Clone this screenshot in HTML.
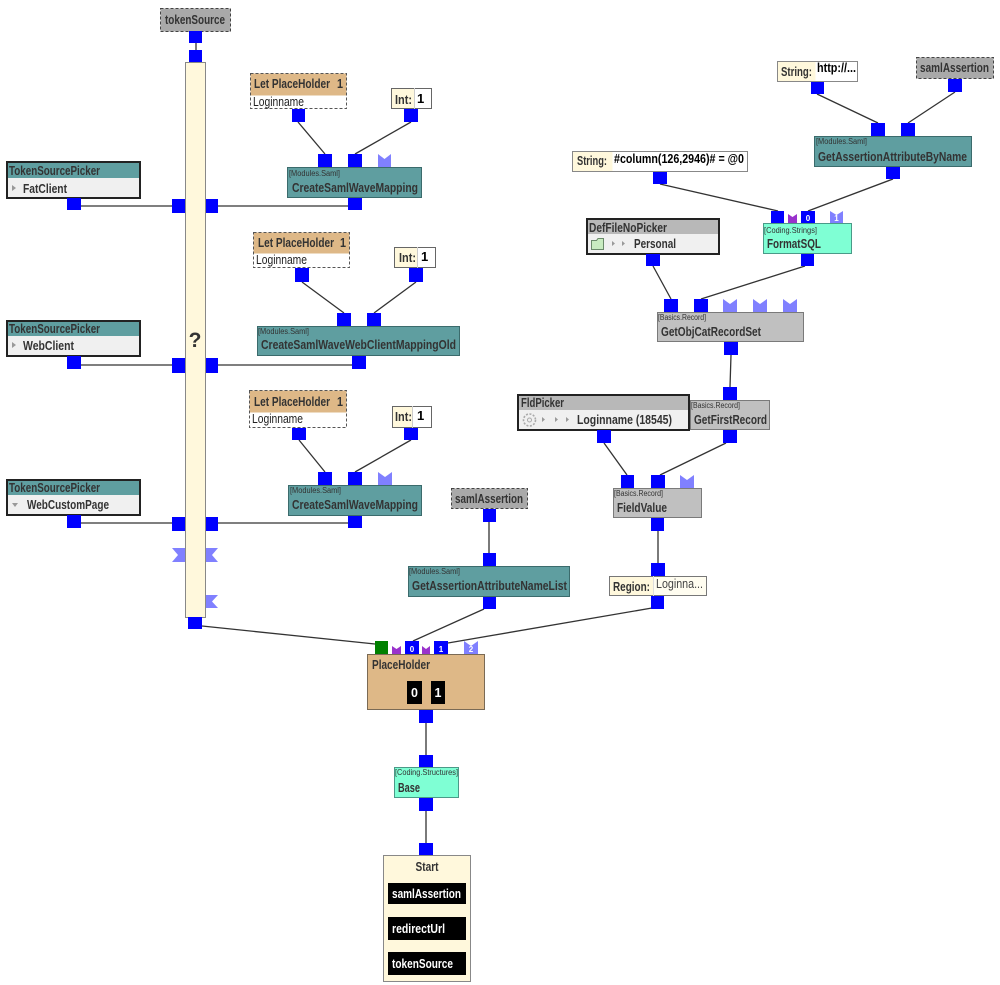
<!DOCTYPE html>
<html><head><meta charset="utf-8"><style>
html,body{margin:0;padding:0;background:#fff;width:1000px;height:985px;overflow:hidden}
svg{display:block}
text{font-family:"Liberation Sans",Arial,sans-serif}
.b{font-weight:bold;font-size:13px;fill:#333}
.t{font-size:8px;fill:#333}
.r{font-size:12.5px;fill:#222}
.w{font-weight:bold;font-size:12.5px;fill:#fff}
.pl{font-weight:bold;font-size:8px;fill:#fff}
</style></head><body>
<svg width="1000" height="985" viewBox="0 0 1000 985" xmlns="http://www.w3.org/2000/svg">
<!-- connectors -->
<g stroke="#333" stroke-width="1.3" fill="none">
<line x1="196" y1="43" x2="196" y2="50"/>
<line x1="81" y1="206" x2="172" y2="206"/><line x1="218" y1="206" x2="348" y2="206"/>
<line x1="81" y1="365" x2="172" y2="365"/><line x1="218" y1="365" x2="352" y2="365"/>
<line x1="81" y1="523" x2="172" y2="523"/><line x1="218" y1="523" x2="348" y2="523"/>
<line x1="298" y1="122" x2="325" y2="154"/><line x1="411" y1="122" x2="355" y2="154"/>
<line x1="302" y1="282" x2="344" y2="313"/><line x1="416" y1="282" x2="374" y2="313"/>
<line x1="299" y1="440" x2="325" y2="472"/><line x1="411" y1="440" x2="355" y2="472"/>
<line x1="202" y1="626" x2="375" y2="644"/>
<line x1="489" y1="522" x2="489" y2="553"/>
<line x1="484" y1="609" x2="413" y2="641"/>
<line x1="652" y1="608" x2="448" y2="643"/>
<line x1="658" y1="531" x2="658" y2="563"/>
<line x1="604" y1="443" x2="627" y2="475"/><line x1="726" y1="443" x2="660" y2="475"/>
<line x1="731" y1="355" x2="730" y2="387"/>
<line x1="653" y1="266" x2="671" y2="299"/><line x1="805" y1="266" x2="701" y2="299"/>
<line x1="660" y1="184" x2="778" y2="211"/><line x1="893" y1="179" x2="808" y2="211"/>
<line x1="817" y1="94" x2="878" y2="123"/><line x1="955" y1="92" x2="908" y2="123"/>
<line x1="426" y1="722" x2="426" y2="755"/><line x1="426" y1="811" x2="426" y2="843"/>
</g>

<!-- tokenSource -->
<rect x="160.5" y="8.5" width="70" height="23" fill="#a9a9a9" stroke="#444" stroke-dasharray="3,2"/>
<text class="b" x="165" y="24" textLength="60" lengthAdjust="spacingAndGlyphs">tokenSource</text>

<!-- vertical bar -->
<rect x="185.5" y="62.5" width="20" height="555" fill="#fff8dc" stroke="#888"/>
<text x="195" y="347" text-anchor="middle" style="font-weight:bold;font-size:21px;fill:#333">?</text>

<!-- TokenSourcePickers -->
<g>
<rect x="7" y="162" width="133" height="16" fill="#5f9ea0"/><rect x="7" y="178" width="133" height="20" fill="#f0f0f0"/>
<rect x="7" y="162" width="133" height="36" fill="none" stroke="#222" stroke-width="2"/>
<text class="b" x="9" y="175" textLength="91" lengthAdjust="spacingAndGlyphs">TokenSourcePicker</text>
<path d="M12,185 L16,188 L12,191 Z" fill="#999"/>
<text class="b" x="23" y="193" textLength="44" lengthAdjust="spacingAndGlyphs">FatClient</text>
</g>
<g>
<rect x="7" y="321" width="133" height="15" fill="#5f9ea0"/><rect x="7" y="336" width="133" height="20" fill="#f0f0f0"/>
<rect x="7" y="321" width="133" height="35" fill="none" stroke="#222" stroke-width="2"/>
<text class="b" x="9" y="333" textLength="91" lengthAdjust="spacingAndGlyphs">TokenSourcePicker</text>
<path d="M12,342 L16,345 L12,348 Z" fill="#999"/>
<text class="b" x="23" y="350" textLength="51" lengthAdjust="spacingAndGlyphs">WebClient</text>
</g>
<g>
<rect x="7" y="480" width="133" height="15" fill="#5f9ea0"/><rect x="7" y="495" width="133" height="20" fill="#f0f0f0"/>
<rect x="7" y="480" width="133" height="35" fill="none" stroke="#222" stroke-width="2"/>
<text class="b" x="9" y="492" textLength="91" lengthAdjust="spacingAndGlyphs">TokenSourcePicker</text>
<path d="M12,503 L18,503 L15,507 Z" fill="#999"/>
<text class="b" x="27" y="509" textLength="82" lengthAdjust="spacingAndGlyphs">WebCustomPage</text>
</g>

<!-- Let PlaceHolders -->
<g>
<rect x="250.5" y="73.5" width="96" height="22" fill="#deb887"/><rect x="250.5" y="95.5" width="96" height="13" fill="#fff"/>
<rect x="250.5" y="73.5" width="96" height="35" fill="none" stroke="#555" stroke-dasharray="3,2"/>
<text class="b" x="254" y="88" textLength="76" lengthAdjust="spacingAndGlyphs">Let PlaceHolder</text><text class="b" x="337" y="88" textLength="6" lengthAdjust="spacingAndGlyphs">1</text>
<text class="r" x="253" y="106" textLength="51" lengthAdjust="spacingAndGlyphs">Loginname</text>
</g>
<g>
<rect x="253.5" y="232.5" width="96" height="21" fill="#deb887"/><rect x="253.5" y="253.5" width="96" height="14" fill="#fff"/>
<rect x="253.5" y="232.5" width="96" height="35" fill="none" stroke="#555" stroke-dasharray="3,2"/>
<text class="b" x="258" y="247" textLength="76" lengthAdjust="spacingAndGlyphs">Let PlaceHolder</text><text class="b" x="340" y="247" textLength="6" lengthAdjust="spacingAndGlyphs">1</text>
<text class="r" x="256" y="264" textLength="51" lengthAdjust="spacingAndGlyphs">Loginname</text>
</g>
<g>
<rect x="249.5" y="390.5" width="97" height="22" fill="#deb887"/><rect x="249.5" y="412.5" width="97" height="15" fill="#fff"/>
<rect x="249.5" y="390.5" width="97" height="37" fill="none" stroke="#555" stroke-dasharray="3,2"/>
<text class="b" x="254" y="406" textLength="76" lengthAdjust="spacingAndGlyphs">Let PlaceHolder</text><text class="b" x="337" y="406" textLength="6" lengthAdjust="spacingAndGlyphs">1</text>
<text class="r" x="252" y="423" textLength="51" lengthAdjust="spacingAndGlyphs">Loginname</text>
</g>

<!-- Int boxes -->
<g>
<rect x="391.5" y="88.5" width="23" height="20" fill="#fff8dc"/><rect x="414.5" y="88.5" width="17" height="20" fill="#fff"/>
<rect x="391.5" y="88.5" width="40" height="20" fill="none" stroke="#666"/><line x1="414.5" y1="88" x2="414.5" y2="109" stroke="#ccc"/>
<text class="b" x="395" y="104" textLength="17" lengthAdjust="spacingAndGlyphs">Int:</text><text class="b" x="417" y="103" style="fill:#000">1</text>
</g>
<g>
<rect x="394.5" y="247.5" width="23" height="20" fill="#fff8dc"/><rect x="417.5" y="247.5" width="18" height="20" fill="#fff"/>
<rect x="394.5" y="247.5" width="41" height="20" fill="none" stroke="#666"/><line x1="417.5" y1="247" x2="417.5" y2="268" stroke="#ccc"/>
<text class="b" x="399" y="262" textLength="17" lengthAdjust="spacingAndGlyphs">Int:</text><text class="b" x="421" y="261" style="fill:#000">1</text>
</g>
<g>
<rect x="392.5" y="406.5" width="20" height="21" fill="#fff8dc"/><rect x="412.5" y="406.5" width="19" height="21" fill="#fff"/>
<rect x="392.5" y="406.5" width="39" height="21" fill="none" stroke="#666"/><line x1="412.5" y1="406" x2="412.5" y2="428" stroke="#ccc"/>
<text class="b" x="395" y="421" textLength="17" lengthAdjust="spacingAndGlyphs">Int:</text><text class="b" x="417" y="420" style="fill:#000">1</text>
</g>

<!-- Teal module nodes -->
<g fill="#5f9ea0" stroke="#3b6b6c">
<rect x="287.5" y="167.5" width="134" height="30"/>
<rect x="257.5" y="326.5" width="202" height="29"/>
<rect x="288.5" y="485.5" width="133" height="30"/>
<rect x="814.5" y="136.5" width="157" height="30"/>
<rect x="408.5" y="566.5" width="161" height="30"/>
</g>
<text class="t" x="289" y="176" textLength="51" lengthAdjust="spacingAndGlyphs">[Modules.Saml]</text>
<text class="b" x="292" y="192" textLength="126" lengthAdjust="spacingAndGlyphs">CreateSamlWaveMapping</text>
<text class="t" x="258" y="334" textLength="51" lengthAdjust="spacingAndGlyphs">[Modules.Saml]</text>
<text class="b" x="261" y="349" textLength="195" lengthAdjust="spacingAndGlyphs">CreateSamlWaveWebClientMappingOld</text>
<text class="t" x="290" y="493" textLength="51" lengthAdjust="spacingAndGlyphs">[Modules.Saml]</text>
<text class="b" x="292" y="509" textLength="126" lengthAdjust="spacingAndGlyphs">CreateSamlWaveMapping</text>
<text class="t" x="816" y="144" textLength="51" lengthAdjust="spacingAndGlyphs">[Modules.Saml]</text>
<text class="b" x="818" y="161" textLength="149" lengthAdjust="spacingAndGlyphs">GetAssertionAttributeByName</text>
<text class="t" x="409" y="574" textLength="51" lengthAdjust="spacingAndGlyphs">[Modules.Saml]</text>
<text class="b" x="412" y="590" textLength="155" lengthAdjust="spacingAndGlyphs">GetAssertionAttributeNameList</text>

<!-- String http -->
<rect x="777.5" y="61.5" width="38" height="20" fill="#fff8dc"/><rect x="815.5" y="61.5" width="42" height="20" fill="#fff"/>
<rect x="777.5" y="61.5" width="80" height="20" fill="none" stroke="#888"/>
<text class="b" x="781" y="76" textLength="31" lengthAdjust="spacingAndGlyphs">String:</text>
<text class="b" x="817" y="72" textLength="39" lengthAdjust="spacingAndGlyphs" style="fill:#000">http://...</text>

<!-- samlAssertion top -->
<rect x="916.5" y="57.5" width="77" height="21" fill="#a9a9a9" stroke="#444" stroke-dasharray="3,2"/>
<text class="b" x="920" y="72" textLength="69" lengthAdjust="spacingAndGlyphs">samlAssertion</text>

<!-- String #column -->
<rect x="572.5" y="151.5" width="40" height="20" fill="#fff8dc"/><rect x="612.5" y="151.5" width="135" height="20" fill="#fff"/>
<rect x="572.5" y="151.5" width="175" height="20" fill="none" stroke="#888"/>
<text class="b" x="577" y="165" textLength="30" lengthAdjust="spacingAndGlyphs">String:</text>
<text class="b" x="614" y="163" textLength="130" lengthAdjust="spacingAndGlyphs" style="fill:#000">#column(126,2946)# = @0</text>

<!-- FormatSQL -->
<rect x="763.5" y="223.5" width="88" height="30" fill="#7fffd4" stroke="#4a9a88"/>
<text class="t" x="764" y="233" textLength="53" lengthAdjust="spacingAndGlyphs">[Coding.Strings]</text>
<text class="b" x="767" y="248" textLength="54" lengthAdjust="spacingAndGlyphs">FormatSQL</text>

<!-- DefFileNoPicker -->
<rect x="587" y="219" width="132" height="15" fill="#b8b8b8"/><rect x="587" y="234" width="132" height="20" fill="#f0f0f0"/>
<rect x="587" y="219" width="132" height="35" fill="none" stroke="#222" stroke-width="2"/>
<text class="b" x="589" y="232" textLength="78" lengthAdjust="spacingAndGlyphs">DefFileNoPicker</text>
<path d="M591.5,240.5 h5 l1.5,-2 h5.5 v11 h-12 z" fill="#c8ecc0" stroke="#6a8a6a"/>
<path d="M612,241 L615,243.5 L612,246 Z M622,241 L625,243.5 L622,246 Z" fill="#999"/>
<text class="b" x="634" y="248" textLength="42" lengthAdjust="spacingAndGlyphs">Personal</text>

<!-- Gray record nodes -->
<g fill="#c0c0c0" stroke="#7a7a7a">
<rect x="657.5" y="312.5" width="146" height="29"/>
<rect x="690.5" y="400.5" width="79" height="29"/>
<rect x="613.5" y="488.5" width="88" height="29"/>
</g>
<text class="t" x="658" y="320" textLength="48" lengthAdjust="spacingAndGlyphs">[Basics.Record]</text>
<text class="b" x="661" y="336" textLength="100" lengthAdjust="spacingAndGlyphs">GetObjCatRecordSet</text>
<text class="t" x="691" y="408" textLength="49" lengthAdjust="spacingAndGlyphs">[Basics.Record]</text>
<text class="b" x="694" y="424" textLength="73" lengthAdjust="spacingAndGlyphs">GetFirstRecord</text>
<text class="t" x="614" y="496" textLength="49" lengthAdjust="spacingAndGlyphs">[Basics.Record]</text>
<text class="b" x="617" y="512" textLength="50" lengthAdjust="spacingAndGlyphs">FieldValue</text>

<!-- FldPicker -->
<rect x="518" y="395" width="171" height="15" fill="#b8b8b8"/><rect x="518" y="410" width="171" height="20" fill="#f0f0f0"/>
<rect x="518" y="395" width="171" height="35" fill="none" stroke="#222" stroke-width="2"/>
<text class="b" x="521" y="407" textLength="43" lengthAdjust="spacingAndGlyphs">FldPicker</text>
<circle cx="529.5" cy="420" r="6" fill="none" stroke="#aaa" stroke-width="1.6" stroke-dasharray="2,1.5"/>
<circle cx="529.5" cy="420" r="2" fill="none" stroke="#aaa"/>
<path d="M542,417 L545,419.5 L542,422 Z M555,417 L558,419.5 L555,422 Z M566,417 L569,419.5 L566,422 Z" fill="#999"/>
<text class="b" x="577" y="424" textLength="95" lengthAdjust="spacingAndGlyphs">Loginname (18545)</text>

<!-- Region -->
<rect x="609.5" y="576.5" width="44" height="19" fill="#fff8dc"/><rect x="653.5" y="576.5" width="53" height="19" fill="#fffdf0"/>
<rect x="609.5" y="576.5" width="97" height="19" fill="none" stroke="#777"/><line x1="653.5" y1="576" x2="653.5" y2="596" stroke="#ddd"/>
<text class="b" x="613" y="591" textLength="37" lengthAdjust="spacingAndGlyphs">Region:</text>
<text x="656" y="588" textLength="47" lengthAdjust="spacingAndGlyphs" style="font-size:12.5px;fill:#444">Loginna...</text>

<!-- samlAssertion mid -->
<rect x="451.5" y="488.5" width="76" height="20" fill="#a9a9a9" stroke="#444" stroke-dasharray="3,2"/>
<text class="b" x="455" y="503" textLength="68" lengthAdjust="spacingAndGlyphs">samlAssertion</text>

<!-- PlaceHolder -->
<rect x="367.5" y="654.5" width="117" height="55" fill="#deb887" stroke="#7a6a55"/>
<text class="b" x="372" y="669" textLength="58" lengthAdjust="spacingAndGlyphs">PlaceHolder</text>
<rect x="407" y="681" width="15" height="23" fill="#000"/><rect x="431" y="681" width="14" height="23" fill="#000"/>
<text class="w" x="414.5" y="697" text-anchor="middle">0</text><text class="w" x="438" y="697" text-anchor="middle">1</text>

<!-- Base -->
<rect x="394.5" y="767.5" width="64" height="30" fill="#7fffd4" stroke="#4a9a88"/>
<text class="t" x="395" y="775" textLength="63" lengthAdjust="spacingAndGlyphs">[Coding.Structures]</text>
<text class="b" x="398" y="792" textLength="22" lengthAdjust="spacingAndGlyphs">Base</text>

<!-- Start -->
<rect x="383.5" y="855.5" width="87" height="126" fill="#fff8dc" stroke="#888"/>
<text class="b" x="427" y="871" text-anchor="middle" textLength="23" lengthAdjust="spacingAndGlyphs">Start</text>
<rect x="388" y="883" width="78" height="21" fill="#000"/>
<rect x="388" y="917" width="78" height="23" fill="#000"/>
<rect x="388" y="952" width="78" height="23" fill="#000"/>
<text class="w" x="392" y="898" textLength="69" lengthAdjust="spacingAndGlyphs">samlAssertion</text>
<text class="w" x="392" y="933" textLength="53" lengthAdjust="spacingAndGlyphs">redirectUrl</text>
<text class="w" x="392" y="968" textLength="61" lengthAdjust="spacingAndGlyphs">tokenSource</text>

<!-- Blue ports -->
<g fill="#0000ff">
<rect x="189" y="31" width="13" height="12"/><rect x="189" y="50" width="13" height="12"/>
<rect x="67" y="198" width="14" height="12"/><rect x="172" y="199" width="13" height="14"/><rect x="206" y="199" width="12" height="14"/>
<rect x="348" y="198" width="14" height="12"/><rect x="318" y="154" width="14" height="13"/><rect x="348" y="154" width="14" height="13"/>
<rect x="292" y="109" width="13" height="13"/><rect x="404" y="109" width="14" height="13"/>
<rect x="295" y="268" width="14" height="14"/><rect x="409" y="268" width="14" height="14"/>
<rect x="337" y="313" width="14" height="13"/><rect x="367" y="313" width="14" height="13"/>
<rect x="352" y="356" width="14" height="13"/>
<rect x="67" y="356" width="14" height="13"/><rect x="172" y="358" width="13" height="15"/><rect x="206" y="358" width="12" height="15"/>
<rect x="292" y="428" width="14" height="12"/><rect x="404" y="428" width="14" height="12"/>
<rect x="318" y="472" width="14" height="13"/><rect x="348" y="472" width="14" height="13"/>
<rect x="348" y="516" width="14" height="12"/>
<rect x="67" y="515" width="14" height="13"/><rect x="172" y="517" width="13" height="14"/><rect x="206" y="517" width="12" height="14"/>
<rect x="188" y="617" width="14" height="12"/>
<rect x="811" y="82" width="13" height="12"/><rect x="948" y="79" width="14" height="13"/>
<rect x="871" y="123" width="14" height="13"/><rect x="901" y="123" width="14" height="13"/>
<rect x="886" y="167" width="14" height="12"/>
<rect x="653" y="172" width="14" height="12"/>
<rect x="771" y="211" width="13" height="12"/><rect x="801" y="211" width="14" height="12"/>
<rect x="801" y="254" width="13" height="12"/><rect x="646" y="254" width="14" height="12"/>
<rect x="664" y="299" width="14" height="13"/><rect x="694" y="299" width="14" height="13"/>
<rect x="724" y="342" width="14" height="13"/><rect x="723" y="387" width="14" height="13"/>
<rect x="723" y="430" width="14" height="13"/><rect x="597" y="430" width="14" height="13"/>
<rect x="621" y="475" width="13" height="13"/><rect x="651" y="475" width="14" height="13"/>
<rect x="651" y="518" width="13" height="13"/><rect x="651" y="563" width="14" height="13"/>
<rect x="651" y="596" width="13" height="13"/>
<rect x="483" y="509" width="13" height="13"/><rect x="483" y="553" width="13" height="13"/><rect x="483" y="597" width="13" height="12"/>
<rect x="405" y="641" width="14" height="13"/><rect x="434" y="641" width="14" height="13"/>
<rect x="419" y="710" width="14" height="13"/><rect x="419" y="755" width="14" height="12"/>
<rect x="419" y="798" width="14" height="13"/><rect x="419" y="843" width="14" height="12"/>
</g>
<rect x="375" y="641" width="13" height="13" fill="#008000"/>
<!-- purple notches -->
<g fill="#9932cc">
<path d="M788,214 L792.5,217 L797,214 L797,223 L788,223 Z"/>
<path d="M392,646 L396.5,649 L401,646 L401,654 L392,654 Z"/>
<path d="M422,646 L426,649 L430,646 L430,654 L422,654 Z"/>
</g>
<!-- pale notches -->
<g fill="#8080ff">
<path d="M378,154 L384.5,159 L391,154 L391,167 L378,167 Z"/>
<path d="M378,472 L385,477 L392,472 L392,485 L378,485 Z"/>
<path d="M830,211 L836.5,215 L843,211 L843,223 L830,223 Z"/>
<path d="M723,299 L730,304 L737,299 L737,312 L723,312 Z"/>
<path d="M753,299 L760,304 L767,299 L767,312 L753,312 Z"/>
<path d="M783,299 L790,304 L797,299 L797,312 L783,312 Z"/>
<path d="M680,475 L687,480 L694,475 L694,488 L680,488 Z"/>
<path d="M464,641 L471,646 L478,641 L478,654 L464,654 Z"/>
<path d="M172,548 L185,548 L185,562 L172,562 L178,555 Z"/>
<path d="M206,548 L218,548 L212,555 L218,562 L206,562 Z"/>
<path d="M206,595 L218,595 L212,601.5 L218,608 L206,608 Z"/>
</g>
<!-- port labels -->
<text class="pl" x="808" y="221" text-anchor="middle">0</text>
<text class="pl" x="836.5" y="221" text-anchor="middle">1</text>
<text class="pl" x="412" y="652" text-anchor="middle">0</text>
<text class="pl" x="441" y="652" text-anchor="middle">1</text>
<text class="pl" x="471" y="652" text-anchor="middle">2</text>
</svg>
</body></html>
